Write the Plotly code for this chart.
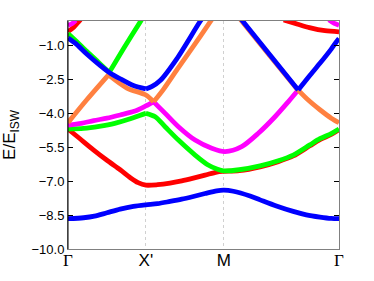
import plotly.graph_objects as go

# ---- path ticks ----
K_TICKS = [0, 1, 2, 3.48]
K_LABELS = ['<span style="font-family:Liberation Serif;font-size:17px">Γ</span>', "X'", "M",
            '<span style="font-family:Liberation Serif;font-size:17px">Γ</span>']
E_TICKS = [-10.0, -8.5, -7.0, -5.5, -4.0, -2.5, -1.0]

# ---- bands (k along path, E/E_ISW) ----
blue1_k = [0, 0.2, 0.34, 0.5, 0.67, 0.84, 1.0, 1.15, 1.31, 1.46, 1.61, 1.76, 1.91, 2.0,
           2.124, 2.338, 2.467, 2.676, 2.892, 3.06, 3.235, 3.38, 3.48]
blue1_E = [-8.66, -8.62, -8.55, -8.40, -8.24, -8.12, -8.05, -8.00, -7.90, -7.80, -7.68, -7.55, -7.43, -7.40,
           -7.45, -7.66, -7.83, -8.10, -8.34, -8.49, -8.59, -8.65, -8.66]

red1_k = [0, 0.15, 0.33, 0.5, 0.67, 0.8, 0.9, 1.0, 1.15, 1.31, 1.46, 1.61, 1.76, 1.91, 2.0,
          2.2, 2.467, 2.7, 2.892, 3.106, 3.235, 3.38, 3.48]
red1_E = [-4.70, -5.12, -5.63, -6.08, -6.50, -6.85, -7.07, -7.18, -7.16, -7.09, -6.99, -6.87, -6.74, -6.60, -6.57,
          -6.54, -6.37, -6.14, -5.89, -5.44, -5.17, -4.94, -4.73]

green1a_k = [0, 0.2, 0.4, 0.6, 0.8, 0.92, 1.0]
green1a_E = [-4.70, -4.67, -4.58, -4.45, -4.25, -4.10, -4.01]
green1b_k = [1.0, 1.12, 1.247, 1.418, 1.632, 1.80, 1.92, 2.0, 2.2, 2.467, 2.7, 2.892, 3.106, 3.235, 3.38, 3.48]
green1b_E = [-4.01, -4.16, -4.60, -5.19, -5.85, -6.29, -6.48, -6.55, -6.50, -6.33, -6.10, -5.85, -5.40, -5.13, -4.90, -4.70]

magenta1a_k = [0, 0.17, 0.33, 0.5, 0.67, 0.85, 1.0, 1.1]
magenta1a_E = [-4.53, -4.45, -4.33, -4.22, -4.08, -3.92, -3.68, -3.50]
magenta1b_k = [1.1, 1.248, 1.418, 1.632, 1.846, 2.017, 2.23, 2.444, 2.658, 2.828, 2.956]
magenta1b_E = [-3.50, -4.01, -4.60, -5.19, -5.55, -5.70, -5.48, -4.89, -4.16, -3.50, -2.98]

orange_a_k = [0, 0.244, 0.52]
orange_a_E = [-4.42, -3.40, -2.31]
orange_b_k = [0.52, 0.756, 1.0, 1.1]
orange_b_E = [-2.31, -2.89, -3.20, -3.50]
orange_c_k = [1.1, 1.226, 1.4, 1.6, 1.825, 1.9]
orange_c_E = [-3.50, -2.95, -2.08, -1.10, 0.03, 0.40]
orange_d_k = [2.2, 2.594, 2.956]
orange_d_E = [0.20, -1.48, -3.00]
orange_e_k = [2.956, 3.085, 3.235, 3.38, 3.48]
orange_e_E = [-2.98, -3.42, -3.85, -4.22, -4.42]

green2a_k = [0, 0.1, 0.244, 0.4, 0.53]
green2a_E = [-0.48, -0.80, -1.28, -1.78, -2.20]
green2b_k = [0.53, 0.714, 0.927, 1.0]
green2b_E = [-2.20, -1.14, 0.03, 0.45]

blue2a_k = [0, 0.1, 0.244, 0.415, 0.53, 0.67, 0.84, 1.0]
blue2a_E = [-0.68, -0.93, -1.40, -1.90, -2.20, -2.48, -2.78, -2.93]
blue2b_k = [1.0, 1.08, 1.184, 1.397, 1.70, 1.78]
blue2b_E = [-2.93, -2.82, -2.56, -1.60, 0.07, 0.45]
blue2c_k = [2.2, 2.594, 2.956]
blue2c_E = [0.25, -1.43, -2.98]
blue2d_k = [2.956, 3.1, 3.235, 3.38, 3.44, 3.48]
blue2d_E = [-2.98, -2.36, -1.80, -1.17, -0.88, -0.70]

red2a_k = [0, 0.07, 0.14, 0.2]
red2a_E = [-0.40, -0.22, 0.05, 0.30]
red2b_k = [2.77, 2.95, 3.1, 3.3, 3.48]
red2b_E = [0.12, -0.07, -0.22, -0.36, -0.41]

magenta2a_k = [0, 0.05, 0.1]
magenta2a_E = [-0.12, -0.05, 0.10]
magenta2b_k = [3.35, 3.42, 3.48]
magenta2b_E = [0.12, -0.04, -0.12]

RED, GREEN, MAGENTA, ORANGE, BLUE = "#ff0000", "#00ff00", "#ff00ff", "#ff8040", "#0000ff"

segments = [
    (red1_k, red1_E, RED), (red2a_k, red2a_E, RED), (red2b_k, red2b_E, RED),
    (green1a_k, green1a_E, GREEN), (green1b_k, green1b_E, GREEN),
    (green2a_k, green2a_E, GREEN), (green2b_k, green2b_E, GREEN),
    (magenta1a_k, magenta1a_E, MAGENTA), (magenta1b_k, magenta1b_E, MAGENTA),
    (magenta2a_k, magenta2a_E, MAGENTA), (magenta2b_k, magenta2b_E, MAGENTA),
    (orange_a_k, orange_a_E, ORANGE), (orange_b_k, orange_b_E, ORANGE),
    (orange_c_k, orange_c_E, ORANGE), (orange_d_k, orange_d_E, ORANGE),
    (orange_e_k, orange_e_E, ORANGE),
    (blue1_k, blue1_E, BLUE),
    (blue2a_k, blue2a_E, BLUE), (blue2b_k, blue2b_E, BLUE),
    (blue2c_k, blue2c_E, BLUE), (blue2d_k, blue2d_E, BLUE),
]

fig = go.Figure()
for k, e, c in segments:
    fig.add_trace(go.Scatter(x=k, y=e, mode="lines",
                             line=dict(color=c, width=4.8, shape="spline", smoothing=0.8),
                             showlegend=False, hoverinfo="skip"))

fig.update_layout(
    width=374, height=281,
    margin=dict(l=68, r=35, t=21, b=32, autoexpand=False),
    paper_bgcolor="white", plot_bgcolor="white",
    font=dict(family="Liberation Sans", color="black"),
    xaxis=dict(range=[0, 3.48], tickvals=K_TICKS, ticktext=K_LABELS, ticks="",
               tickfont=dict(size=17, family="Liberation Sans"), ticklabelstandoff=-4,
               showline=True, linecolor="#808080", linewidth=1, mirror=True,
               showgrid=True, gridcolor="#d0d0d0", griddash="dot", gridwidth=1.2,
               zeroline=False, automargin=False),
    yaxis=dict(range=[-10, 0.07], tickvals=E_TICKS,
               ticktext=[("−%.1f" % abs(v)) for v in E_TICKS],
               ticks="inside", ticklen=5, tickcolor="black",
               tickfont=dict(size=13, family="Liberation Sans"),
               showline=True, linecolor="#808080", linewidth=1, mirror="ticks",
               showgrid=False, zeroline=False, automargin=False,
               title=dict(text="E/E<sub>ISW</sub>", font=dict(size=17, family="Liberation Sans"))),
    shapes=[dict(type="line", xref="paper", yref="paper", x0=0, x1=0, y0=0, y1=1,
                 line=dict(color="black", width=1))],
)

fig.write_html("out.html", config={"displayModeBar": False},
               post_script="document.body.style.margin='0';document.body.style.padding='0';")
